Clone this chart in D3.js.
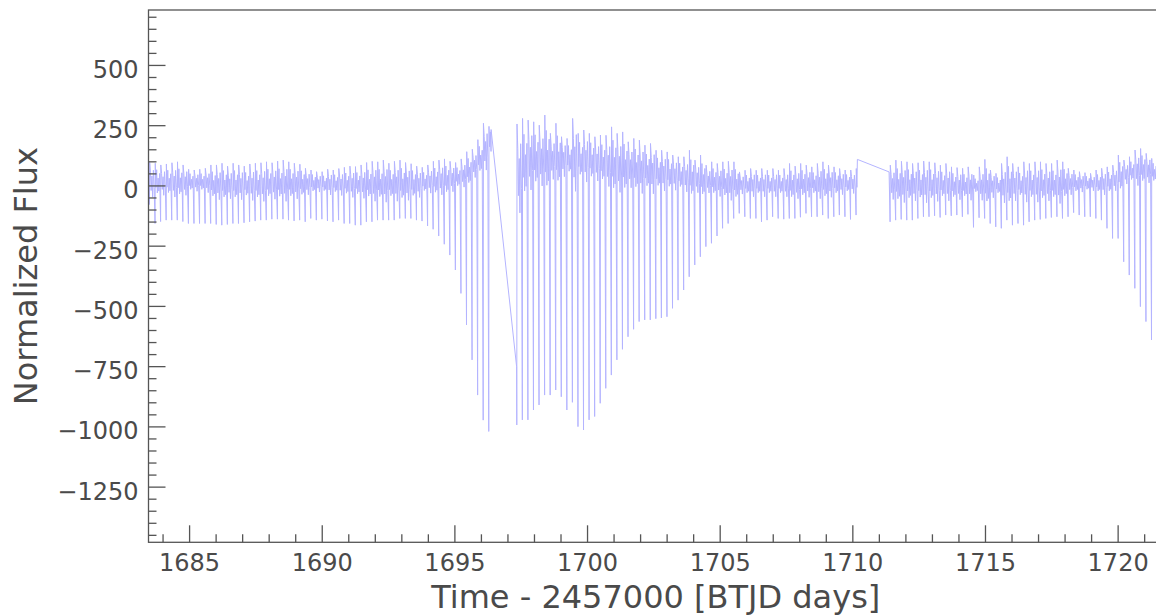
<!DOCTYPE html>
<html>
<head>
<meta charset="utf-8">
<script src="https://cdn.jsdelivr.net/npm/d3@7"></script>
<style>
  body { margin: 0; background: #fff; }
  svg { display: block; }
  text { font-family: "DejaVu Sans", sans-serif; }
</style>
</head>
<body>
<svg id="chart" width="1156" height="615"></svg>
<script>
"use strict";

// light curve, one value per pulsation cycle
var period = 0.20965;

var seg1Start = 1683.507;
var seg1End = 1696.383, seg1EndFlux = 232;
var seg1Dips = [-80, -158, -150, -144, -144, -144, -150, -158, -158, -158,
    -158, -158, -162, -165, -162, -158, -158, -155, -151, -148,
    -144, -144, -140, -140, -140, -144, -147, -144, -151, -137,
    -144, -140, -147, -151, -144, -158, -158, -165, -165, -151,
    -151, -144, -144, -144, -144, -137, -137, -137, -144, -148,
    -168, -182, -210, -244, -289, -351, -448, -579, -724, -870,
    -974, -1021];
var seg1Tops = [95, 92, 85, 89, 94, 98, 85, 67, 64, 67,
    71, 85, 85, 92, 80, 92, 85, 80, 89, 92,
    94, 98, 94, 101, 105, 98, 92, 88, 71, 64,
    57, 57, 67, 64, 70, 75, 80, 78, 85, 95,
    100, 98, 105, 92, 100, 105, 95, 90, 80, 75,
    85, 100, 105, 110, 100, 95, 110, 140, 150, 190,
    258, 245];
var seg1Base = [15, 15, 15, 15, 15, 15, 15, 15, 15, 15,
    15, 5, 5, 5, 5, 5, 5, 5, 5, 5,
    5, 10, 10, 10, 10, 10, 10, 10, 10, 10,
    10, 8, 8, 8, 8, 8, 8, 8, 8, 8,
    8, 8, 8, 8, 8, 8, 8, 8, 8, 15,
    20, 20, 25, 25, 30, 35, 45, 60, 85, 110,
    150, 180];

var seg2Start = 1697.352;
var seg2FirstTime = 1697.345, seg2FirstFlux = -752;
var seg2End = 1710.190, seg2EndFlux = 108;
var seg2Dips = [-994, -973, -973, -932, -911, -870, -870, -849, -877, -932,
    -900, -1001, -1015, -973, -959, -904, -842, -787, -724, -680,
    -628, -597, -565, -558, -558, -553, -550, -545, -510, -476,
    -434, -379, -330, -296, -254, -240, -210, -178, -158, -137,
    -116, -130, -137, -137, -151, -144, -130, -137, -140, -137,
    -137, -132, -116, -130, -130, -123, -137, -130, -123, -130,
    -141, -123];
var seg2Tops = [255, 278, 271, 264, 250, 292, 216, 258, 202, 195,
    278, 216, 230, 216, 202, 209, 208, 243, 216, 222,
    181, 195, 188, 167, 174, 146, 146, 139, 126, 119,
    119, 146, 105, 126, 84, 98, 91, 98, 100, 98,
    56, 63, 70, 63, 70, 63, 70, 63, 70, 91,
    80, 91, 84, 77, 91, 98, 84, 77, 70, 64,
    64, 70];
var seg2Base = [50, 90, 110, 110, 110, 110, 110, 110, 110, 110,
    110, 110, 110, 105, 100, 95, 90, 85, 80, 78,
    75, 70, 65, 62, 58, 55, 52, 50, 45, 42,
    38, 34, 30, 25, 20, 18, 15, 12, 10, 8,
    5, 5, 5, 5, 5, 5, 5, 5, 5, 5,
    5, 10, 10, 10, 10, 10, 10, 10, 10, 10,
    10, 10];

var seg3Start = 1711.423;
var seg3FirstTime = 1711.385, seg3FirstFlux = 56;
var seg3Dips = [-151, -144, -141, -144, -144, -137, -130, -130, -126, -133,
    -123, -126, -123, -130, -120, -174, -134, -137, -158, -172,
    -178, -144, -165, -158, -165, -151, -144, -141, -137, -133,
    -130, -137, -130, -113, -123, -130, -130, -137, -144, -178,
    -220, -220, -317, -372, -427, -503, -565, -641];
var seg3Tops = [84, 105, 100, 98, 91, 94, 101, 98, 94, 84,
    91, 77, 74, 71, 77, 43, 77, 108, 64, 50,
    91, 119, 91, 77, 98, 91, 98, 98, 91, 91,
    105, 98, 71, 64, 57, 53, 50, 64, 71, 77,
    84, 126, 105, 119, 147, 153, 133, 112];
var seg3Base = [5, 5, 5, 5, 5, 5, 5, 5, 5, 5,
    5, 0, 0, 0, 0, 0, 0, 0, 0, 0,
    0, 5, 5, 5, 5, 5, 5, 5, 5, 5,
    5, 10, 10, 10, 10, 10, 10, 10, 10, 15,
    25, 40, 50, 60, 65, 70, 65, 55];

// shape of the flux between two dips (even and odd cycles),
// as phase and share of the top-base gap
var topPhase = 0.04;
var bandPhaseA = [0.18, 0.30, 0.44, 0.56, 0.70, 0.84];
var bandShapeA = [0.5, -0.45, 0.3, -0.8, 0.6, -0.3];
var bandPhaseB = [0.15, 0.29, 0.41, 0.55, 0.68, 0.82];
var bandShapeB = [-0.3, 0.65, -0.6, 0.2, -0.5, 0.45];

var xMajor = [1685, 1690, 1695, 1700, 1705, 1710, 1715, 1720];
var yMajor = [-1250, -1000, -750, -500, -250, 0, 250, 500];

var svg = d3.select("#chart");
var margin = { left: 148.5, top: 10, right: 1163, bottom: 542.3 };

var x = d3.scaleLinear().domain([1683.47, 1721.71]).range([margin.left, margin.right]);
var y = d3.scaleLinear().domain([-1481, 728]).range([margin.bottom, margin.top]);

function buildSegment(t0, dips, tops, base, end) {
    var pts = [];
    dips.forEach(function (d, i) {
        var t = t0 + i * period;
        var phases = i % 2 ? bandPhaseB : bandPhaseA;
        var shape = i % 2 ? bandShapeB : bandShapeA;
        pts.push([t, d]);
        pts.push([t + topPhase * period, tops[i]]);
        phases.forEach(function (p, k) {
            pts.push([t + p * period, base[i] + shape[k] * (tops[i] - base[i])]);
        });
    });
    if (end != null) pts = pts.filter(function (p) { return p[0] < end; });
    return pts;
}

var points = []
    .concat(buildSegment(seg1Start, seg1Dips, seg1Tops, seg1Base, seg1End))
    .concat([[seg1End, seg1EndFlux], [seg2FirstTime, seg2FirstFlux]])
    .concat(buildSegment(seg2Start, seg2Dips, seg2Tops, seg2Base, seg2End))
    .concat([[seg2End, seg2EndFlux], [seg3FirstTime, seg3FirstFlux]])
    .concat(buildSegment(seg3Start, seg3Dips, seg3Tops, seg3Base, null));

svg.append("defs").append("clipPath").attr("id", "plot-clip")
    .append("rect")
    .attr("x", margin.left).attr("y", margin.top)
    .attr("width", margin.right - margin.left)
    .attr("height", margin.bottom - margin.top);

var line = d3.line()
    .x(function (d) { return x(d[0]); })
    .y(function (d) { return y(d[1]); });

svg.append("path")
    .datum(points)
    .attr("clip-path", "url(#plot-clip)")
    .attr("d", line)
    .attr("fill", "none")
    .attr("stroke", "#b4b4ff")
    .attr("stroke-width", 1)
    .attr("stroke-linejoin", "round");

// minor ticks
var xMinor = d3.range(1684, 1722).filter(function (v) { return v % 5 !== 0; });
var yMinor = d3.range(-1450, 701, 50).filter(function (v) { return v % 250 !== 0; });

var tickColor = "#555";

function styleAxis(g) {
    g.select(".domain").remove();
    g.selectAll("line").attr("stroke", tickColor).attr("stroke-width", 1.3);
    g.selectAll("text").attr("fill", "#4a4a4a").style("font-size", "24px");
}

svg.append("g")
    .attr("transform", "translate(" + margin.left + ",0)")
    .call(d3.axisLeft(y).tickValues(yMinor).tickSize(-8).tickFormat(""))
    .call(styleAxis);

svg.append("g")
    .attr("transform", "translate(0," + margin.bottom + ")")
    .call(d3.axisBottom(x).tickValues(xMinor).tickSize(-8).tickFormat(""))
    .call(styleAxis);

svg.append("g")
    .attr("transform", "translate(" + margin.left + ",0)")
    .call(d3.axisLeft(y).tickValues(yMajor).tickSize(-17).tickPadding(10).tickFormat(d3.format("d")))
    .call(styleAxis)
    .call(function (g) { g.selectAll("text").attr("dy", "0.52em"); });

svg.append("g")
    .attr("transform", "translate(0," + margin.bottom + ")")
    .call(d3.axisBottom(x).tickValues(xMajor).tickSize(-17).tickPadding(12).tickFormat(d3.format("d")))
    .call(styleAxis);

// frame
svg.append("rect")
    .attr("x", margin.left).attr("y", margin.top)
    .attr("width", margin.right - margin.left)
    .attr("height", margin.bottom - margin.top)
    .attr("fill", "none")
    .attr("stroke", tickColor)
    .attr("stroke-width", 1.3);

// axis titles
svg.append("text")
    .attr("x", (margin.left + margin.right) / 2)
    .attr("y", 608)
    .attr("text-anchor", "middle")
    .attr("fill", "#4a4a4a")
    .style("font-size", "32px")
    .text("Time - 2457000 [BTJD days]");

svg.append("text")
    .attr("transform", "translate(37," + (margin.top + margin.bottom) / 2 + ") rotate(-90)")
    .attr("text-anchor", "middle")
    .attr("fill", "#4a4a4a")
    .style("font-size", "32px")
    .text("Normalized Flux");
</script>
</body>
</html>
